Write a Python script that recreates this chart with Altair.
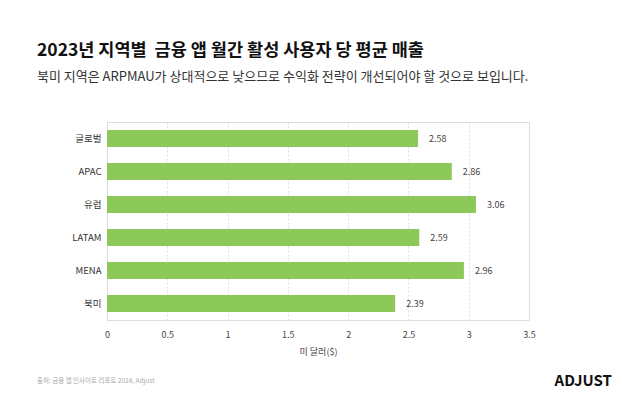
import altair as alt
import pandas as pd

regions = ["글로벌", "APAC", "유럽", "LATAM", "MENA", "북미"]
values = [2.58, 2.86, 3.06, 2.59, 2.96, 2.39]
x_ticks = [0, 0.5, 1, 1.5, 2, 2.5, 3, 3.5]

title_text = "2023년 지역별\u00a0 금융 앱 월간 활성 사용자 당 평균 매출"
subtitle_text = "북미 지역은 ARPMAU가 상대적으로 낮으므로 수익화 전략이 개선되어야 할 것으로 보입니다."
source_text = "출처: 금융 앱 인사이트 리포트 2024, Adjust"
logo_text = "ADJUST"
x_title = "미 달러($)"

FONT = "Noto Sans CJK KR"

df = pd.DataFrame({"region": regions, "value": values})

W, H = 422, 198

x_enc = alt.X(
    "value:Q",
    scale=alt.Scale(domain=[0, 3.5], nice=False),
    axis=alt.Axis(
        values=x_ticks, format="~g", labelFlush=False, title=x_title, grid=True,
        gridDash=[2, 2], gridColor="#dddddd",
        domain=False, ticks=False, labelPadding=10, labelFontSize=9, labelColor="#444444",
        titleFontSize=9, titleColor="#444444", titleFontWeight="normal", titlePadding=8,
        labelFont=FONT, titleFont=FONT,
    ),
)
y_enc = alt.Y(
    "region:N", sort=regions,
    scale=alt.Scale(paddingInner=0.48, paddingOuter=0.24),
    axis=alt.Axis(
        title=None, domain=False, ticks=False, labelPadding=6, labelFontSize=9.5,
        labelColor="#333333", labelFont=FONT,
    ),
)

bars = alt.Chart(df).mark_bar(color="#8dc85a").encode(x=x_enc, y=y_enc)
labels = alt.Chart(df).mark_text(
    align="left", dx=11, fontSize=9, color="#444444", font=FONT
).encode(x="value:Q", y=alt.Y("region:N", sort=regions), text=alt.Text("value:Q", format=".2f"))

src = alt.Chart(pd.DataFrame({"t": [source_text]})).mark_text(
    align="left", baseline="middle", fontSize=6.5, color="#aaaaaa", font=FONT
).encode(x=alt.value(-70), y=alt.value(259), text="t:N")

logo = alt.Chart(pd.DataFrame({"t": [logo_text]})).mark_text(
    align="right", baseline="middle", fontSize=15, fontWeight="bold", color="#111111", font=FONT
).encode(x=alt.value(505), y=alt.value(259), text="t:N")

chart = alt.layer(bars, labels, src, logo).properties(
    width=W, height=H,
    title=alt.TitleParams(
        text=title_text, subtitle=subtitle_text, anchor="start", frame="group", dx=-70,
        fontSize=17.5, fontWeight="bold", color="#111111", font=FONT,
        subtitleFontSize=13, subtitleColor="#333333", subtitleFont=FONT,
        subtitlePadding=12, offset=38,
    ),
    autosize=alt.AutoSizeParams(type="none"),
    padding={"left": 99, "top": 114, "right": 103, "bottom": 88},
).configure_view(stroke=None).configure(background="white")

chart.save("out.html", embed_options={"renderer": "svg", "actions": False})
